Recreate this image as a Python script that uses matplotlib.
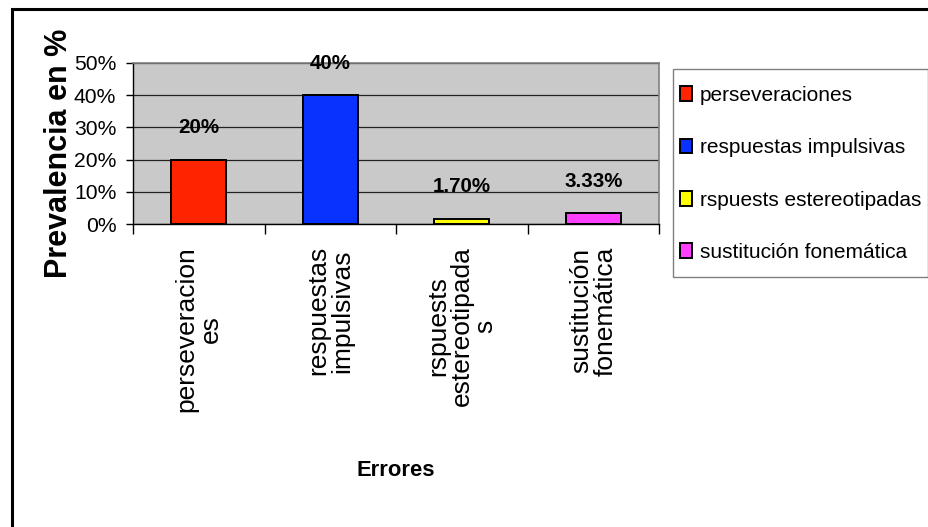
import matplotlib
matplotlib.use("Agg")
import matplotlib.pyplot as plt
from matplotlib.patches import Rectangle

# Data
categories = ["perseveracion\nes", "respuestas\nimpulsivas",
              "rspuests\nestereotipada\ns", "sustitución\nfonemática"]
legend_labels = ["perseveraciones", "respuestas impulsivas",
                 "rspuests estereotipadas", "sustitución fonemática"]
values = [20, 40, 1.70, 3.33]
value_labels = ["20%", "40%", "1.70%", "3.33%"]
y_ticks = [0, 10, 20, 30, 40, 50]
y_tick_labels = ["0%", "10%", "20%", "30%", "40%", "50%"]
colors = ["#ff2400", "#0a32ff", "#ffff00", "#ff40ff"]

FONT = "Liberation Sans"

W, H = 929, 527
fig = plt.figure(figsize=(W / 100, H / 100), dpi=100)
fig.patch.set_facecolor("white")

# outer frame (left and top edges visible)
fig.patches.append(Rectangle((12 / W, -0.2), 2.0, 1.2 - 9 / H,
                             transform=fig.transFigure, fill=False,
                             edgecolor="black", linewidth=2.2, zorder=0))

left, right, top, bottom = 133 / W, 659 / W, 1 - 63 / H, 1 - 224 / H
ax = fig.add_axes([left, bottom, right - left, top - bottom])
ax.set_facecolor("#c9c9c9")

x = list(range(len(values)))
bars = ax.bar(x, values, width=0.42, color=colors, edgecolor="black",
              linewidth=1.4, zorder=3)

for xi, v, lab in zip(x, values, value_labels):
    ax.annotate(lab, (xi, v), xytext=(0, 32), textcoords="offset pixels",
                ha="center", va="center", fontsize=14.8,
                fontweight="bold", family=FONT, zorder=4)

ax.set_xlim(-0.5, len(values) - 0.5)
ax.set_ylim(0, 50)
ax.set_yticks(y_ticks)
ax.set_yticklabels(y_tick_labels, family=FONT, fontsize=15.2)
ax.tick_params(axis="y", length=5, width=1, pad=7, color="black")
ax.yaxis.grid(True, color="#222222", linewidth=0.9, zorder=1)
ax.set_axisbelow(True)

# category separators as major ticks, names as minor ticks
ax.set_xticks([i - 0.5 for i in range(len(values) + 1)])
ax.set_xticklabels([])
ax.tick_params(axis="x", which="major", length=7, width=1, color="black")
ax.set_xticks(x, minor=True)
ax.set_xticklabels(categories, minor=True, rotation=90, family=FONT,
                   fontsize=19, linespacing=1.0)
ax.tick_params(axis="x", which="minor", length=0, pad=16)
for t in ax.get_xticklabels(minor=True):
    t.set_multialignment("center")
    t.set_va("top")
    t.set_ha("center")

for s in ["top", "right"]:
    ax.spines[s].set_color("#808080")
    ax.spines[s].set_linewidth(1.2)
for s in ["left", "bottom"]:
    ax.spines[s].set_color("black")
    ax.spines[s].set_linewidth(1.0)

ax.set_ylabel("Prevalencia en %", fontsize=22, fontweight="bold", family=FONT)
ax.yaxis.set_label_coords(-0.14, 0.44)
ax.yaxis.label.set_va("center")
ax.set_xlabel("Errores", fontsize=15.8, fontweight="bold", family=FONT)
ax.xaxis.set_label_coords(0.5, -1.528)
ax.xaxis.label.set_va("center")

# legend box and entries
fig.patches.append(Rectangle((673 / W, 1 - 277 / H), (928 - 673) / W, (277 - 69) / H,
                             transform=fig.transFigure, facecolor="white",
                             edgecolor="#808080", linewidth=1.0, zorder=1))
leg = fig.legend(bars, legend_labels, loc="upper left",
                 bbox_to_anchor=(680 / W, 1 - 86 / H), bbox_transform=fig.transFigure,
                 prop={"family": FONT, "size": 15},
                 frameon=False, borderaxespad=0, borderpad=0,
                 handlelength=0.58, handleheight=0.72, handletextpad=0.38,
                 labelspacing=1.6)
leg.set_zorder(2)

fig.savefig("out.png", dpi=100)
